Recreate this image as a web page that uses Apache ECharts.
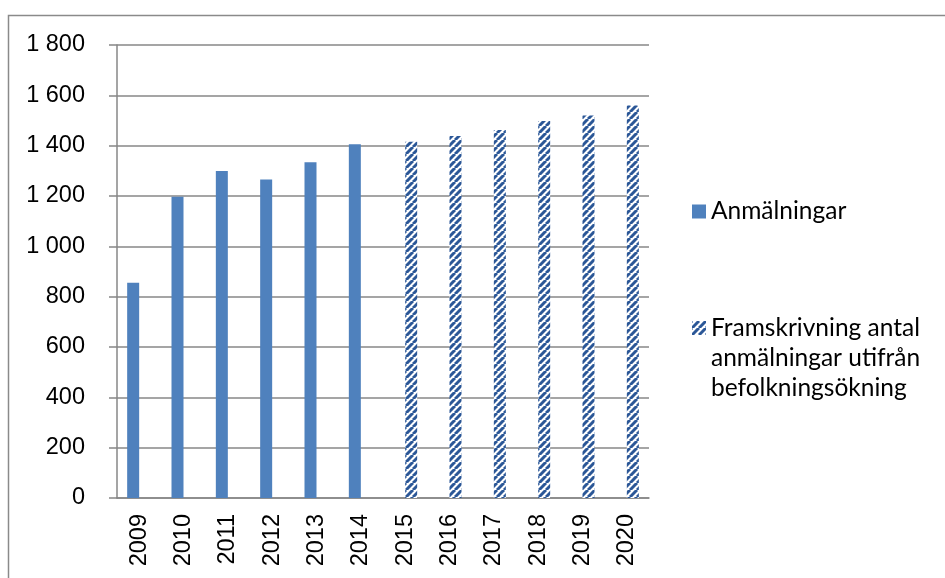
<!DOCTYPE html>
<html>
<head>
<meta charset="utf-8">
<script src="https://cdn.jsdelivr.net/npm/echarts@6/dist/echarts.min.js"></script>
<style>
  html, body { margin: 0; padding: 0; background: #fff; }
  #chart { width: 945px; height: 578px; }
</style>
</head>
<body>
<div id="chart"></div>
<script>
// data
const years = ['2009', '2010', '2011', '2012', '2013', '2014', '2015', '2016', '2017', '2018', '2019', '2020'];
const anmalningar = [855, 1197, 1299, 1266, 1334, 1406, '-', '-', '-', '-', '-', '-'];
const framskrivning = ['-', '-', '-', '-', '-', '-', 1416, 1438, 1462, 1498, 1520, 1560];
const yTicks = [0, 200, 400, 600, 800, 1000, 1200, 1400, 1600, 1800];

// diagonal stripe pattern for the projection series
const makeStripes = () => {
  const size = 7;
  const c = document.createElement('canvas');
  c.width = size;
  c.height = size;
  const ctx = c.getContext('2d');
  ctx.fillStyle = '#ffffff';
  ctx.fillRect(0, 0, size, size);
  ctx.strokeStyle = '#2b5797';
  ctx.lineWidth = 3;
  for (let k = -1; k <= 1; k++) {
    ctx.beginPath();
    ctx.moveTo(k * size, size);
    ctx.lineTo(k * size + size, 0);
    ctx.stroke();
  }
  return c;
};
const stripes = { image: makeStripes(), repeat: 'repeat' };

const axisGrey = '#878787';
const fmt = v => String(v).replace(/\B(?=(\d{3})+(?!\d))/g, ' ');
const projName = 'Framskrivning antal\nanmälningar utifrån\nbefolkningsökning';

const chart = echarts.init(document.getElementById('chart'));
chart.setOption({
  animation: false,
  graphic: [{
    type: 'rect',
    shape: { x: 8.5, y: 15.5, width: 1200, height: 1200 },
    style: { fill: 'none', stroke: '#8a8a8a', lineWidth: 1.5 },
    silent: true
  }],
  grid: { left: 117, right: 296, top: 45, bottom: 80 },
  legend: [
    {
      data: ['Anmälningar'],
      left: 692,
      top: 199,
      padding: 0,
      itemWidth: 14,
      itemHeight: 14,
      itemGap: 8,
      icon: 'rect',
      textStyle: { fontFamily: 'Lato', fontSize: 24.5, color: '#000' }
    },
    {
      data: [projName],
      left: 692,
      top: 253,
      padding: 0,
      itemWidth: 14,
      itemHeight: 14,
      itemGap: 8,
      icon: 'rect',
      // two blank lines on top so the icon sits beside the first line
      formatter: n => '\n\n' + n,
      textStyle: { fontFamily: 'Lato', fontSize: 24.5, color: '#000', lineHeight: 30 }
    }
  ],
  xAxis: {
    type: 'category',
    data: years,
    axisLine: { lineStyle: { color: axisGrey, width: 1.5 } },
    axisTick: { length: 8, lineStyle: { color: axisGrey, width: 1.5 } },
    axisLabel: {
      rotate: 90,
      margin: 16,
      interval: 0,
      fontFamily: 'Liberation Sans',
      fontSize: 23.5,
      color: '#000'
    }
  },
  yAxis: {
    type: 'value',
    min: 0,
    max: 1800,
    interval: 200,
    axisLine: { show: true, lineStyle: { color: axisGrey, width: 1.5 } },
    axisTick: { show: true, length: 8, lineStyle: { color: axisGrey, width: 1.5 } },
    splitLine: { lineStyle: { color: axisGrey, width: 1.5 } },
    axisLabel: {
      margin: 32,
      fontFamily: 'Liberation Sans',
      fontSize: 23.5,
      color: '#000',
      formatter: v => yTicks.includes(v) ? fmt(v) : ''
    }
  },
  series: [
    {
      name: 'Anmälningar',
      type: 'bar',
      data: anmalningar,
      barWidth: 12,
      barGap: '0%',
      itemStyle: { color: '#4f81bd' }
    },
    {
      name: projName,
      type: 'bar',
      data: framskrivning,
      barWidth: 12,
      barGap: '0%',
      itemStyle: { color: stripes }
    }
  ]
});
</script>
</body>
</html>
